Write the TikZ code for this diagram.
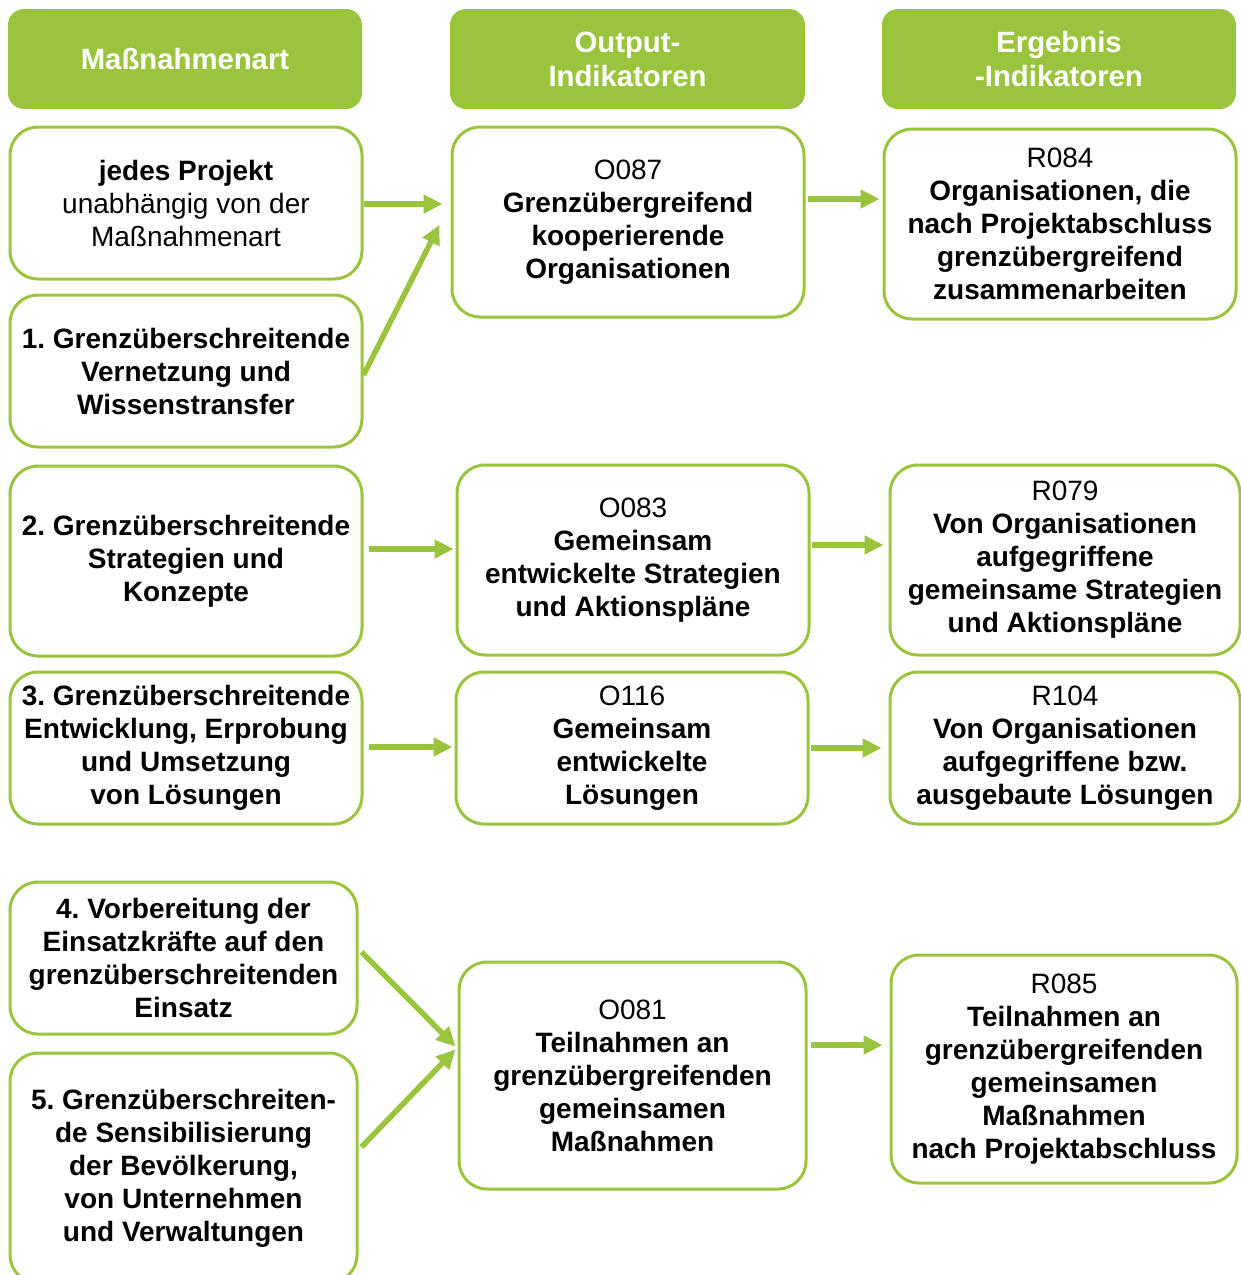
\documentclass[tikz,border=0pt]{standalone}
\usepackage{fontspec}
\setmainfont{Liberation Sans}
\usetikzlibrary{arrows.meta}
\definecolor{grn}{RGB}{155,196,62}
\frenchspacing
\begin{document}
\begin{tikzpicture}[x=1pt,y=-1pt,
 box/.style={draw=grn, line width=3pt, rounded corners=28pt, fill=white, align=center, inner sep=0pt, font=\fontsize{28}{33}\selectfont\bfseries},
 head/.style={fill=grn, rounded corners=16pt, align=center, text=white, inner sep=0pt, font=\fontsize{29.3}{34}\selectfont\bfseries},
 arr/.style={draw=grn, line width=5.5pt, -{Triangle[length=19pt,width=18pt]}}]
\useasboundingbox (0,0) rectangle (1241,1275);

% headers
\node[head, minimum width=354pt, minimum height=100pt] (H1) at (185,59) {Maßnahmenart};
\node[head, minimum width=355pt, minimum height=100pt] (H2) at (627.5,59) {Output-\\Indikatoren};
\node[head, minimum width=354pt, minimum height=100pt] (H3) at (1059,59) {Ergebnis\\-Indikatoren};

% left column
\node[box, minimum width=352pt, minimum height=152pt] (L1) at (186,203) {jedes Projekt\\\mdseries unabhängig von der\\\mdseries Maßnahmenart};
\node[box, minimum width=352pt, minimum height=152pt] (L2) at (186,371) {1. Grenzüberschreitende\\Vernetzung und\\Wissenstransfer};
\node[box, minimum width=352pt, minimum height=190pt] (L3) at (186,561) {2. Grenzüberschreitende\\Strategien und\\Konzepte};
\node[box, minimum width=352pt, minimum height=152pt] (L4) at (186,748) {3. Grenzüberschreitende\\Entwicklung, Erprobung\\und Umsetzung\\von Lösungen};
\node[box, minimum width=347pt, minimum height=152pt] (L5) at (183.5,958) {4. Vorbereitung der\\Einsatzkräfte auf den\\grenzüberschreitenden\\Einsatz};
\node[box, minimum width=347pt, minimum height=230pt] (L6) at (183.5,1168) {5. Grenzüberschreiten-\\de Sensibilisierung\\der Bevölkerung,\\von Unternehmen\\und Verwaltungen};

% middle column
\node[box, minimum width=352pt, minimum height=190pt] (M1) at (628,222) {\mdseries O087\\Grenzübergreifend\\kooperierende\\Organisationen};
\node[box, minimum width=352pt, minimum height=190pt] (M2) at (633,560) {\mdseries O083\\Gemeinsam\\entwickelte Strategien\\und Aktionspläne};
\node[box, minimum width=352pt, minimum height=152pt] (M3) at (632,748) {\mdseries O116\\Gemeinsam\\entwickelte\\Lösungen};
\node[box, minimum width=347pt, minimum height=227pt] (M4) at (632.5,1075.5) {\mdseries O081\\Teilnahmen an\\grenzübergreifenden\\gemeinsamen\\Maßnahmen};

% right column
\node[box, minimum width=352pt, minimum height=190pt] (R1) at (1060,224) {\mdseries R084\\Organisationen, die\\nach Projektabschluss\\grenzübergreifend\\zusammenarbeiten};
\node[box, minimum width=350pt, minimum height=190pt] (R2) at (1065,560) {\mdseries R079\\Von Organisationen\\aufgegriffene\\gemeinsame Strategien\\und Aktionspläne};
\node[box, minimum width=350pt, minimum height=152pt] (R3) at (1065,748) {\mdseries R104\\Von Organisationen\\aufgegriffene bzw.\\ausgebaute Lösungen};
\node[box, minimum width=346pt, minimum height=228pt] (R4) at (1064,1069) {\mdseries R085\\Teilnahmen an\\grenzübergreifenden\\gemeinsamen\\Maßnahmen\\nach Projektabschluss};

% connectors
\coordinate (a1) at ([yshift=-1pt]L1.east);
\draw[arr, shorten >=8pt] (a1) -- (a1 -| M1.west);
\draw[arr] ([yshift=-4pt]L2.east) -- ([xshift=-11pt,yshift=-3pt]M1.west);
\coordinate (a2) at ([xshift=2pt,yshift=23pt]M1.east);
\draw[arr, shorten >=3pt] (a2) -- (a2 -| R1.west);
\coordinate (a3) at ([xshift=5pt,yshift=12pt]L3.east);
\draw[arr, shorten >=2pt] (a3) -- (a3 -| M2.west);
\coordinate (a4) at ([xshift=1pt,yshift=15pt]M2.east);
\draw[arr, shorten >=5pt] (a4) -- (a4 -| R2.west);
\coordinate (a5) at ([xshift=5pt,yshift=1pt]L4.east);
\draw[arr, shorten >=2pt] (a5) -- (a5 -| M3.west);
\coordinate (a6) at ([xshift=1pt]M3.east);
\draw[arr, shorten >=7pt] (a6) -- (a6 -| R3.west);
\draw[arr] ([xshift=3pt,yshift=6pt]L5.east) -- ([xshift=-2pt,yshift=29pt]M4.west);
\draw[arr] ([xshift=3pt,yshift=21pt]L6.east) -- ([xshift=-2pt,yshift=26pt]M4.west);
\coordinate (a7) at ([xshift=3pt,yshift=30.5pt]M4.east);
\draw[arr, shorten >=7pt] (a7) -- (a7 -| R4.west);
\end{tikzpicture}
\end{document}
